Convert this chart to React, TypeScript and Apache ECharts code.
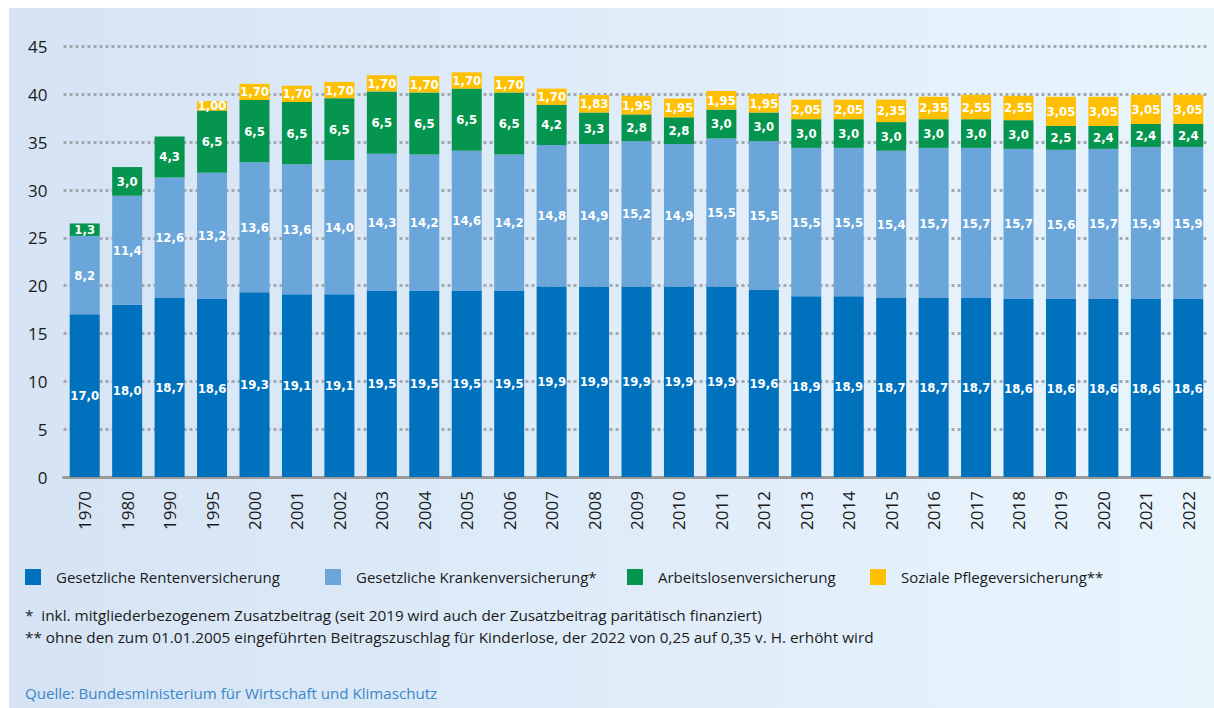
import React, { useEffect, useRef } from "react";
import * as echarts from "echarts";

const years = ["1970","1980","1990","1995","2000","2001","2002","2003","2004","2005","2006","2007","2008","2009","2010","2011","2012","2013","2014","2015","2016","2017","2018","2019","2020","2021","2022"];
const rente = [17.0,18.0,18.7,18.6,19.3,19.1,19.1,19.5,19.5,19.5,19.5,19.9,19.9,19.9,19.9,19.9,19.6,18.9,18.9,18.7,18.7,18.7,18.6,18.6,18.6,18.6,18.6];
const kranken = [8.2,11.4,12.6,13.2,13.6,13.6,14.0,14.3,14.2,14.6,14.2,14.8,14.9,15.2,14.9,15.5,15.5,15.5,15.5,15.4,15.7,15.7,15.7,15.6,15.7,15.9,15.9];
const arbeitslosen = [1.3,3.0,4.3,6.5,6.5,6.5,6.5,6.5,6.5,6.5,6.5,4.2,3.3,2.8,2.8,3.0,3.0,3.0,3.0,3.0,3.0,3.0,3.0,2.5,2.4,2.4,2.4];
const pflege = [null,null,null,1.0,1.7,1.7,1.7,1.7,1.7,1.7,1.7,1.7,1.83,1.95,1.95,1.95,1.95,2.05,2.05,2.35,2.35,2.55,2.55,3.05,3.05,3.05,3.05];
const seriesNames = ["Gesetzliche Rentenversicherung","Gesetzliche Krankenversicherung*","Arbeitslosenversicherung","Soziale Pflegeversicherung**"];
const colors = ["#0071bc","#6aa6d9","#06954f","#fec000"];
const yTicks = [0, 45, 5];
const footnotes = [
  "*  inkl. mitgliederbezogenem Zusatzbeitrag (seit 2019 wird auch der Zusatzbeitrag paritätisch finanziert)",
  "** ohne den zum 01.01.2005 eingeführten Beitragszuschlag für Kinderlose, der 2022 von 0,25 auf 0,35 v. H. erhöht wird",
];
const source = "Quelle: Bundesministerium für Wirtschaft und Klimaschutz";

const FONT = "'Open Sans', 'Noto Sans', sans-serif";
const LABEL_FONT = "'DejaVu Sans Condensed', 'Roboto', sans-serif";

export default function App() {
  const ref = useRef<HTMLDivElement>(null);
  useEffect(() => {
    document.body.style.margin = "0";
    const chart = echarts.init(ref.current!, undefined, { renderer: "svg" });
    const datasets = [rente, kranken, arbeitslosen, pflege];
    const legendX = [25, 325, 627, 870];
    const option: any = {
      animation: false,
      backgroundColor: "transparent",
      grid: { left: 63.5, right: 4.5, top: 46.5, bottom: 231 },
      legend: seriesNames.map((n, i) => ({
        data: [n],
        left: legendX[i],
        top: 569,
        padding: 0,
        icon: "rect",
        itemWidth: 16,
        itemHeight: 16,
        selectedMode: false,
        textStyle: { fontFamily: FONT, fontSize: 15, color: "#1a1a1a", padding: [0, 0, 0, 10] },
      })),
      xAxis: {
        type: "category",
        data: years,
        axisLine: { lineStyle: { color: "#9a9a9a", width: 3 } },
        axisTick: { show: false },
        axisLabel: { rotate: 90, fontSize: 17, color: "#1a1a1a", margin: 14, fontFamily: FONT },
      },
      yAxis: {
        type: "value",
        min: yTicks[0],
        max: yTicks[1],
        interval: yTicks[2],
        axisLine: { show: false },
        axisTick: { show: false },
        axisLabel: { fontSize: 17, color: "#1a1a1a", margin: 16, fontFamily: FONT },
        splitLine: { lineStyle: { type: [3, 3], width: 3, color: "#a3a9b0" } },
      },
      series: datasets.map((d, i) => ({
        name: seriesNames[i],
        type: "bar",
        stack: "total",
        barWidth: 30,
        data: d,
        itemStyle: { color: colors[i] },
        label: {
          show: true,
          position: "inside",
          color: "#ffffff",
          fontWeight: "bold",
          fontSize: 13,
          fontFamily: LABEL_FONT,
          formatter: (p: any) =>
            p.value == null ? "" : Number(p.value).toFixed(i === 3 ? 2 : 1).replace(".", ","),
        },
      })),
      graphic: [
        ...footnotes.map((t, i) => ({
          type: "text",
          left: 25,
          top: 607 + i * 22,
          style: { text: t, fontFamily: FONT, fontSize: 15.3, fill: "#1a1a1a" },
        })),
        {
          type: "text",
          left: 25,
          top: 685,
          style: { text: source, fontFamily: FONT, fontSize: 15.1, fill: "#3a86c6" },
        },
      ],
    };
    chart.setOption(option);
    return () => chart.dispose();
  }, []);
  return (
    <div style={{ position: "relative", width: 1214, height: 708, background: "#ffffff", overflow: "hidden" }}>
      <div style={{ position: "absolute", left: 9, top: 8, right: 0, bottom: 0, background: "linear-gradient(90deg, #d5e3f4 0%, #e9f5fd 100%)" }} />
      <div ref={ref} style={{ position: "absolute", left: 0, top: 0, width: 1214, height: 708 }} />
    </div>
  );
}
